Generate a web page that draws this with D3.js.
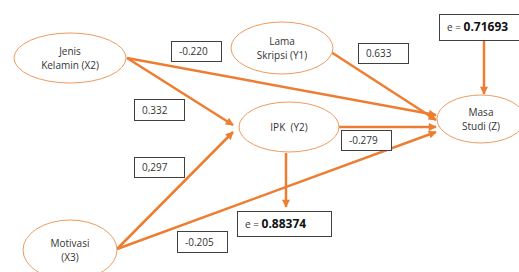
<!DOCTYPE html>
<html>
<head>
<meta charset="utf-8">
<script src="https://cdn.jsdelivr.net/npm/d3@7"></script>
<style>
  body { margin: 0; background: #fff; }
  svg text { font-family: "Open Sans", "Noto Sans", sans-serif; fill: #333; white-space: pre; }
</style>
</head>
<body>
<div id="chart"></div>
<script>
// path model data
var nodeIds = ["X2", "Y1", "Y2", "Z", "X3"];
var nodeLines = [["Jenis", "Kelamin (X2)"], ["Lama", "Skripsi (Y1)"], ["IPK  (Y2)"], ["Masa", "Studi (Z)"], ["Motivasi", "(X3)"]];
var pathFrom = ["X2", "X2", "Y1", "Y2", "X3", "X3"];
var pathTo   = ["Y2", "Z",  "Z",  "Z",  "Y2", "Z"];
var coefLabels = ["0.332", "-0.220", "0.633", "-0.279", "0,297", "-0.205"];
var errorTargets = ["Z", "Y2"];
var errorValues = ["0.71693", "0.88374"];

// layout (pixel grid of the diagram)
var w = 519, h = 272;
var x = d3.scaleLinear().domain([0, 519]).range([0, w]);
var y = d3.scaleLinear().domain([0, 272]).range([0, h]);

var nodePos = {
  X2: {cx: 70, cy: 58, rx: 56, ry: 25},
  Y1: {cx: 282, cy: 48, rx: 51, ry: 26},
  Y2: {cx: 289, cy: 127, rx: 50, ry: 25},
  Z:  {cx: 481, cy: 119, rx: 44, ry: 24},
  X3: {cx: 70, cy: 250, rx: 47, ry: 30}
};
// end points of each path line [x1,y1,x2,y2]
var pathPos = [
  [127, 58, 233, 125],
  [127, 58, 436, 115],
  [331, 52, 436, 120],
  [339, 127, 436, 127],
  [117, 249, 233, 132],
  [117, 249, 436, 132]
];
var coefBox = [
  [134, 99, 50, 21], [171, 41, 50, 20], [358, 43, 50, 20],
  [341, 130, 50, 20], [134, 157, 50, 20], [177, 231, 50, 21]
];
var errBox = [[439, 14, 82, 26], [237, 211, 94, 25]];
var errArrow = [[484, 40, 484, 94], [286, 153, 286, 207]];

var orange = "#ED7D31";

var svg = d3.select("#chart").append("svg")
  .attr("width", w).attr("height", h);

svg.append("defs").append("marker")
  .attr("id", "arr")
  .attr("viewBox", "0 0 10 10")
  .attr("refX", 9).attr("refY", 5)
  .attr("markerWidth", 9).attr("markerHeight", 8)
  .attr("markerUnits", "userSpaceOnUse")
  .attr("orient", "auto")
  .append("path").attr("d", "M0,0L10,5L0,10z").attr("fill", orange);

// path lines
svg.append("g").selectAll("line").data(pathFrom)
  .join("line")
  .attr("x1", function(d, i) { return x(pathPos[i][0]); })
  .attr("y1", function(d, i) { return y(pathPos[i][1]); })
  .attr("x2", function(d, i) { return x(pathPos[i][2]); })
  .attr("y2", function(d, i) { return y(pathPos[i][3]); })
  .attr("stroke", orange).attr("stroke-width", 2.5)
  .attr("marker-end", "url(#arr)");

// error arrows
svg.append("g").selectAll("line").data(errorTargets)
  .join("line")
  .attr("x1", function(d, i) { return x(errArrow[i][0]); })
  .attr("y1", function(d, i) { return y(errArrow[i][1]); })
  .attr("x2", function(d, i) { return x(errArrow[i][2]); })
  .attr("y2", function(d, i) { return y(errArrow[i][3]); })
  .attr("stroke", orange).attr("stroke-width", 2.5)
  .attr("marker-end", "url(#arr)");

// ellipses
var nodes = svg.append("g").selectAll("g").data(nodeIds).join("g");
nodes.append("ellipse")
  .attr("cx", function(d) { return x(nodePos[d].cx); })
  .attr("cy", function(d) { return y(nodePos[d].cy); })
  .attr("rx", function(d) { return nodePos[d].rx; })
  .attr("ry", function(d) { return nodePos[d].ry; })
  .attr("fill", "#fff").attr("stroke", "#F09A60").attr("stroke-width", 1);
nodes.each(function(d, i) {
  var lines = nodeLines[i];
  var t = d3.select(this).append("text")
    .attr("text-anchor", "middle")
    .attr("font-size", 10);
  lines.forEach(function(l, j) {
    t.append("tspan")
      .attr("x", x(nodePos[d].cx))
      .attr("y", y(nodePos[d].cy) + 4 + (j - (lines.length - 1) / 2) * 14)
      .text(l);
  });
});

// coefficient boxes
var cb = svg.append("g").selectAll("g").data(coefLabels).join("g");
cb.append("rect")
  .attr("x", function(d, i) { return x(coefBox[i][0]) + 0.5; })
  .attr("y", function(d, i) { return y(coefBox[i][1]) + 0.5; })
  .attr("width", function(d, i) { return coefBox[i][2]; })
  .attr("height", function(d, i) { return coefBox[i][3]; })
  .attr("fill", "#fff").attr("stroke", "#404040").attr("stroke-width", 1);
cb.append("text")
  .attr("x", function(d, i) { return x(coefBox[i][0]) + 8; })
  .attr("y", function(d, i) { return y(coefBox[i][1]) + coefBox[i][3] / 2 + 4; })
  .attr("font-size", 10)
  .text(function(d) { return d; });

// error boxes
var eb = svg.append("g").selectAll("g").data(errorValues).join("g");
eb.append("rect")
  .attr("x", function(d, i) { return x(errBox[i][0]) + 0.5; })
  .attr("y", function(d, i) { return y(errBox[i][1]) + 0.5; })
  .attr("width", function(d, i) { return errBox[i][2]; })
  .attr("height", function(d, i) { return errBox[i][3]; })
  .attr("fill", "#fff").attr("stroke", "#404040").attr("stroke-width", 1);
var et = eb.append("text")
  .attr("x", function(d, i) { return x(errBox[i][0]) + 8; })
  .attr("y", function(d, i) { return y(errBox[i][1]) + errBox[i][3] / 2 + 4; })
  .attr("font-size", 10);
et.append("tspan").text("e = ");
et.append("tspan").attr("font-weight", "bold").attr("font-size", 12)
  .attr("fill", "#111").text(function(d) { return d; });
</script>
</body>
</html>
